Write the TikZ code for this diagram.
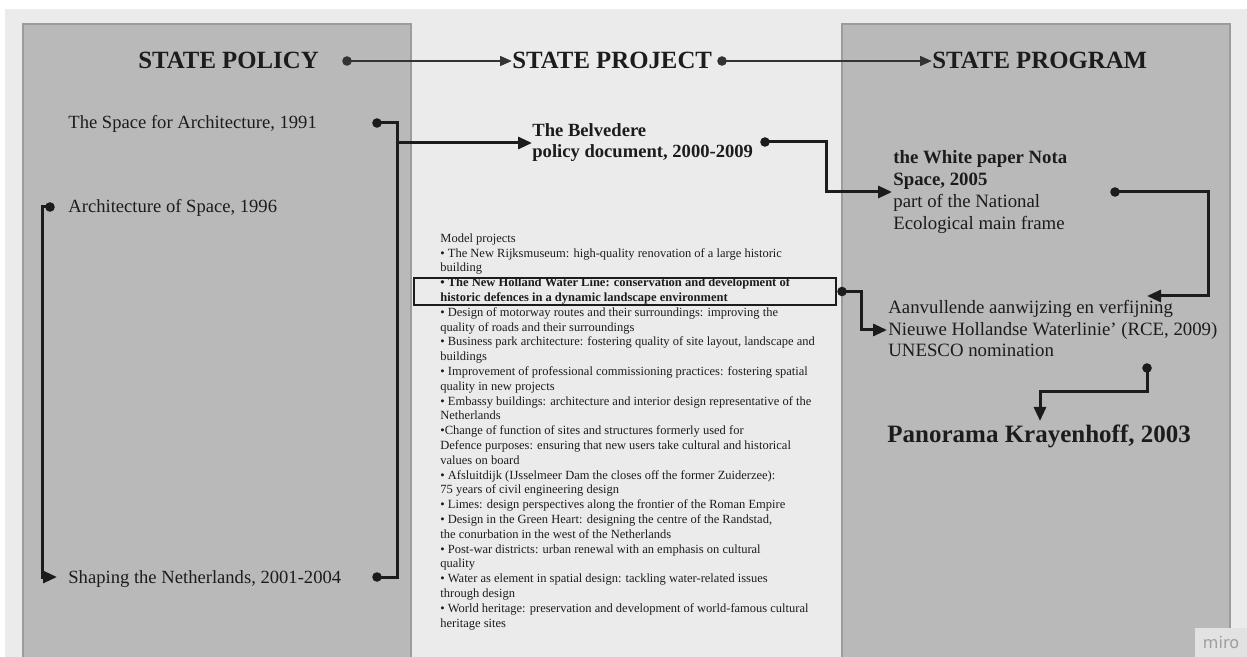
\documentclass[tikz,border=0pt]{standalone}
\usepackage{fontspec}
\setmainfont{Liberation Serif}
\setsansfont{DejaVu Sans}
\usetikzlibrary{arrows.meta}
\definecolor{bgl}{HTML}{EBEBEB}
\definecolor{col}{HTML}{B9B9B9}
\definecolor{colb}{HTML}{9C9C9C}
\definecolor{ink}{HTML}{1C1C1C}
\definecolor{hink}{HTML}{333333}
\definecolor{wm}{HTML}{E2E2E2}
\begin{document}
\begin{tikzpicture}[x=0.5pt,y=-0.5pt,
  hdr/.style={font=\fontsize{12.4}{14}\selectfont\bfseries,inner sep=0pt,text=ink,anchor=base west},
  item/.style={font=\fontsize{9.3}{11}\selectfont,inner sep=0pt,text=ink,anchor=base west,align=left},
  small/.style={font=\fontsize{6.25}{7.4}\selectfont,inner sep=0pt,text=ink,anchor=base west,align=left},
  conn/.style={draw=ink,line width=1.5pt},
  arr/.style={conn,-{Triangle[length=7pt,width=6pt]}},
  harr/.style={draw=hink,line width=1.3pt,-{Triangle[length=6pt,width=4.8pt]}},
  dotc/.style={fill=ink}]
\useasboundingbox (0,0) rectangle (1247,657);
\fill[white] (0,0) rectangle (1247,657);
\fill[bgl] (5,9) rectangle (1247,657);
\filldraw[fill=col,draw=colb,line width=0.75pt] (23,24) rectangle (411,658);
\filldraw[fill=col,draw=colb,line width=0.75pt] (842,24) rectangle (1230,658);

% headers
\node[hdr] (pol) at (138,69) {STATE POLICY};
\node[hdr] (proj) at (512,69) {STATE PROJECT};
\node[hdr] (prog) at (932,69) {STATE PROGRAM};
\coordinate (h1) at (347,61);
\coordinate (h2) at (722,61);
\fill[hink] (h1) circle[radius=2.4pt];
\fill[hink] (h2) circle[radius=2.4pt];
\draw[harr] (h1) -- (h1 -| proj.west);
\draw[harr] (h2) -- (h2 -| prog.west);

% left column
\node[item] (sa) at (68,129) {The Space for Architecture, 1991};
\node[item] (as) at (68,213) {Architecture of Space, 1996};
\node[item] (sn) at (68,583) {Shaping the Netherlands, 2001-2004};

% middle (base anchor = baseline of last line)
\node[item,font=\fontsize{9.3}{10.5}\selectfont\bfseries] (bel) at (532,158) {The Belvedere\\policy document, 2000-2009};
\node[small] (list) at (440,627) {Model projects\\
• The New Rijksmuseum: high-quality renovation of a large historic\\
building\\
\textbf{• The New Holland Water Line: conservation and development of}\\
\textbf{historic defences in a dynamic landscape environment}\\
• Design of motorway routes and their surroundings: improving the\\
quality of roads and their surroundings\\
• Business park architecture: fostering quality of site layout, landscape and\\
buildings\\
• Improvement of professional commissioning practices: fostering spatial\\
quality in new projects\\
• Embassy buildings: architecture and interior design representative of the\\
Netherlands\\
•Change of function of sites and structures formerly used for\\
Defence purposes: ensuring that new users take cultural and historical\\
values on board\\
• Afsluitdijk (IJsselmeer Dam the closes off the former Zuiderzee):\\
75 years of civil engineering design\\
• Limes: design perspectives along the frontier of the Roman Empire\\
• Design in the Green Heart: designing the centre of the Randstad,\\
the conurbation in the west of the Netherlands\\
• Post-war districts: urban renewal with an emphasis on cultural\\
quality\\
• Water as element in spatial design: tackling water-related issues\\
through design\\
• World heritage: preservation and development of world-famous cultural\\
heritage sites};
\node[draw=ink,line width=1pt,inner sep=0pt,minimum width=211pt,minimum height=13.5pt,anchor=north west] (nbox) at (413,277) {};

% right column
\node[item,font=\fontsize{9.4}{11}\selectfont] (wp) at (893,230) {\textbf{the White paper Nota}\\\textbf{Space, 2005}\\part of the National\\Ecological main frame};
\node[item,font=\fontsize{9.4}{10.75}\selectfont] (an) at (888,357) {Aanvullende aanwijzing en verfijning\\Nieuwe Hollandse Waterlinie' (RCE, 2009)\\UNESCO nomination};
\node[item,font=\fontsize{12.5}{14}\selectfont\bfseries] (pk) at (887,443) {Panorama Krayenhoff, 2003};

% left connectors
\coordinate (d1) at (377,123);
\coordinate (d2) at (377,577);
\coordinate (vx) at (397,350);
\coordinate (b0) at (397,143);
\fill[ink] (d1) circle[radius=2.4pt];
\fill[ink] (d2) circle[radius=2.4pt];
\draw[conn] (d1) -| (vx) |- (d2);
\draw[arr] (b0) -- (b0 -| bel.west);

\coordinate (d3) at (50,207);
\coordinate (c3) at (42,400);
\coordinate (t3) at (57,577);
\fill[ink] (d3) circle[radius=2.4pt];
\draw[arr] (d3) -| (c3) |- (t3);

% middle to right
\coordinate (d4) at (765,142);
\coordinate (c4) at (826,142);
\coordinate (t4) at (892,192);
\fill[ink] (d4) circle[radius=2.4pt];
\draw[arr] (d4) -- (c4) |- (t4);

\coordinate (d5) at ([xshift=2.5pt]nbox.east);
\coordinate (c5) at (861,330);
\coordinate (t5) at (887,330);
\fill[ink] (d5) circle[radius=2.4pt];
\draw[arr] (d5) -| (c5) -- (t5);

\coordinate (d6) at (1115,192);
\coordinate (c6) at (1208,296);
\coordinate (t6) at (1147,296);
\fill[ink] (d6) circle[radius=2.4pt];
\draw[arr] (d6) -| (c6) -- (t6);

\coordinate (d7) at (1147,368);
\coordinate (c7) at (1040,392);
\coordinate (t7) at (1040,421);
\fill[ink] (d7) circle[radius=2.4pt];
\draw[arr] (d7) |- (c7) -- (t7);

% watermark
\fill[wm] (1195,628) rectangle (1247,657);
\node[font=\sffamily\fontsize{8}{9}\selectfont,text=black!38,inner sep=0pt] (miro) at (1221,643) {miro};
\end{tikzpicture}
\end{document}
